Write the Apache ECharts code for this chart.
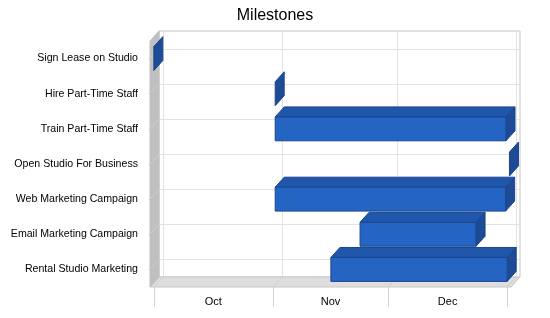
<!DOCTYPE html>
<html>
<head>
<meta charset="utf-8">
<script src="https://cdn.jsdelivr.net/npm/echarts@6/dist/echarts.min.js"></script>
<style>html,body{margin:0;padding:0;background:#fff}#chart{width:550px;height:318px}</style>
</head>
<body>
<div id="chart"></div>
<script>
// Categories (top to bottom)
const categories = ['Sign Lease on Studio', 'Hire Part-Time Staff', 'Train Part-Time Staff', 'Open Studio For Business', 'Web Marketing Campaign', 'Email Marketing Campaign', 'Rental Studio Marketing'];
// Days since Oct 1
const startDays = [0, 31.6, 31.6, 92.6, 31.6, 53.7, 46.1];
const endDays   = [0, 31.6, 91.7, 92.6, 91.6, 83.9, 92.0];
// Month axis
const monthLabels = ['Oct', 'Nov', 'Dec'];
const monthStarts = [0, 31, 61, 92];
const monthMids = [15.5, 46, 76.5];

const DX = 9, DY = 10;
const FONT = 'Liberation Sans, Arial, sans-serif';

const barData = categories.map((c, i) => [i, startDays[i], endDays[i]]);

const chart = echarts.init(document.getElementById('chart'), null, {renderer: 'canvas'});

function renderWalls(params, api) {
  const cs = params.coordSys;
  const x0 = cs.x, y0 = cs.y, w = cs.width, h = cs.height;
  const children = [];
  // back wall
  children.push({type: 'rect', shape: {x: x0 + DX, y: y0 - DY, width: w, height: h},
    style: {fill: '#fff', stroke: '#c4c4c4', lineWidth: 1}});
  // back vertical grid lines
  monthStarts.forEach(v => {
    const px = Math.round(api.coord([v, 0])[0] + DX) + 0.5;
    children.push({type: 'line', shape: {x1: px, y1: y0 - DY, x2: px, y2: y0 + h - DY},
      style: {stroke: '#e2e2e2', lineWidth: 1}});
  });
  // back horizontal grid lines
  categories.forEach((c, i) => {
    const py = Math.round(api.coord([0, i])[1] - DY) + 0.5;
    children.push({type: 'line', shape: {x1: x0 + DX, y1: py, x2: x0 + w + DX, y2: py},
      style: {stroke: '#e2e2e2', lineWidth: 1}});
  });
  // floor
  children.push({type: 'polygon', shape: {points: [[x0, y0 + h], [x0 + DX, y0 + h - DY], [x0 + w + DX, y0 + h - DY], [x0 + w, y0 + h]]},
    style: {fill: '#dedede', stroke: '#c8c8c8', lineWidth: 1}});
  monthStarts.forEach(v => {
    const px = api.coord([v, 0])[0];
    children.push({type: 'line', shape: {x1: px, y1: y0 + h, x2: px + DX, y2: y0 + h - DY},
      style: {stroke: '#cfcfcf', lineWidth: 1}});
  });
  // left wall
  children.push({type: 'polygon', shape: {points: [[x0, y0], [x0 + DX, y0 - DY], [x0 + DX, y0 + h - DY], [x0, y0 + h]]},
    style: {fill: '#c0c0c0', stroke: '#c0c0c0', lineWidth: 1}});
  categories.forEach((c, i) => {
    const py = api.coord([0, i])[1];
    children.push({type: 'line', shape: {x1: x0, y1: py, x2: x0 + DX, y2: py - DY},
      style: {stroke: '#cdcdcd', lineWidth: 1}});
  });
  return {type: 'group', children: children};
}

function renderBar(params, api) {
  const cat = api.value(0);
  const p0 = api.coord([api.value(1), cat]);
  const p1 = api.coord([api.value(2), cat]);
  const bh = api.size([0, 1])[1] * 0.68;
  const top = p0[1] - bh / 2, bot = p0[1] + bh / 2;
  const xa = p0[0], xb = p1[0];
  const stroke = '#1a4590';
  const children = [];
  if (xb > xa) {
    children.push({type: 'polygon', shape: {points: [[xa, top], [xa + DX, top - DY], [xb + DX, top - DY], [xb, top]]},
      style: {fill: '#2157aa', stroke: stroke, lineWidth: 1}});
  }
  children.push({type: 'polygon', shape: {points: [[xb, top], [xb + DX, top - DY], [xb + DX, bot - DY], [xb, bot]]},
    style: {fill: '#1d4b96', stroke: stroke, lineWidth: 1}});
  if (xb > xa) {
    children.push({type: 'rect', shape: {x: xa, y: top, width: xb - xa, height: bh},
      style: {fill: '#2464c2', stroke: stroke, lineWidth: 1}});
  }
  return {type: 'group', children: children};
}

chart.setOption({
  animation: false,
  backgroundColor: '#fff',
  title: {text: 'Milestones', left: 'center', top: 3,
    textStyle: {fontFamily: FONT, fontSize: 16, fontWeight: 'normal', color: '#000'}},
  grid: {left: 150, right: 39, top: 41, bottom: 31, containLabel: false},
  xAxis: {
    type: 'value', min: -1, max: 93,
    axisLine: {show: false},
    splitLine: {show: false},
    axisTick: {show: true, customValues: monthStarts, length: 20, lineStyle: {color: '#d4d4d4'}},
    axisLabel: {show: true, customValues: monthMids, margin: 9,
      formatter: v => monthLabels[monthMids.indexOf(v)] || '',
      fontFamily: FONT, fontSize: 11, color: '#000'}
  },
  yAxis: {
    type: 'category', data: categories, inverse: true, offset: 2,
    axisLine: {show: false},
    axisTick: {show: true, alignWithLabel: true, length: 5, lineStyle: {color: '#cccccc'}},
    axisLabel: {margin: 10, fontFamily: FONT, fontSize: 10.6, color: '#000', padding: [2, 0, 0, 0]},
    splitLine: {show: false}
  },
  series: [
    {type: 'custom', renderItem: renderWalls, data: [[0, 0, 0]], encode: {x: 1, y: 0}, silent: true, clip: false, z: 1},
    {type: 'custom', renderItem: renderBar, data: barData, encode: {x: [1, 2], y: 0}, clip: false, z: 2}
  ]
});
</script>
</body>
</html>
